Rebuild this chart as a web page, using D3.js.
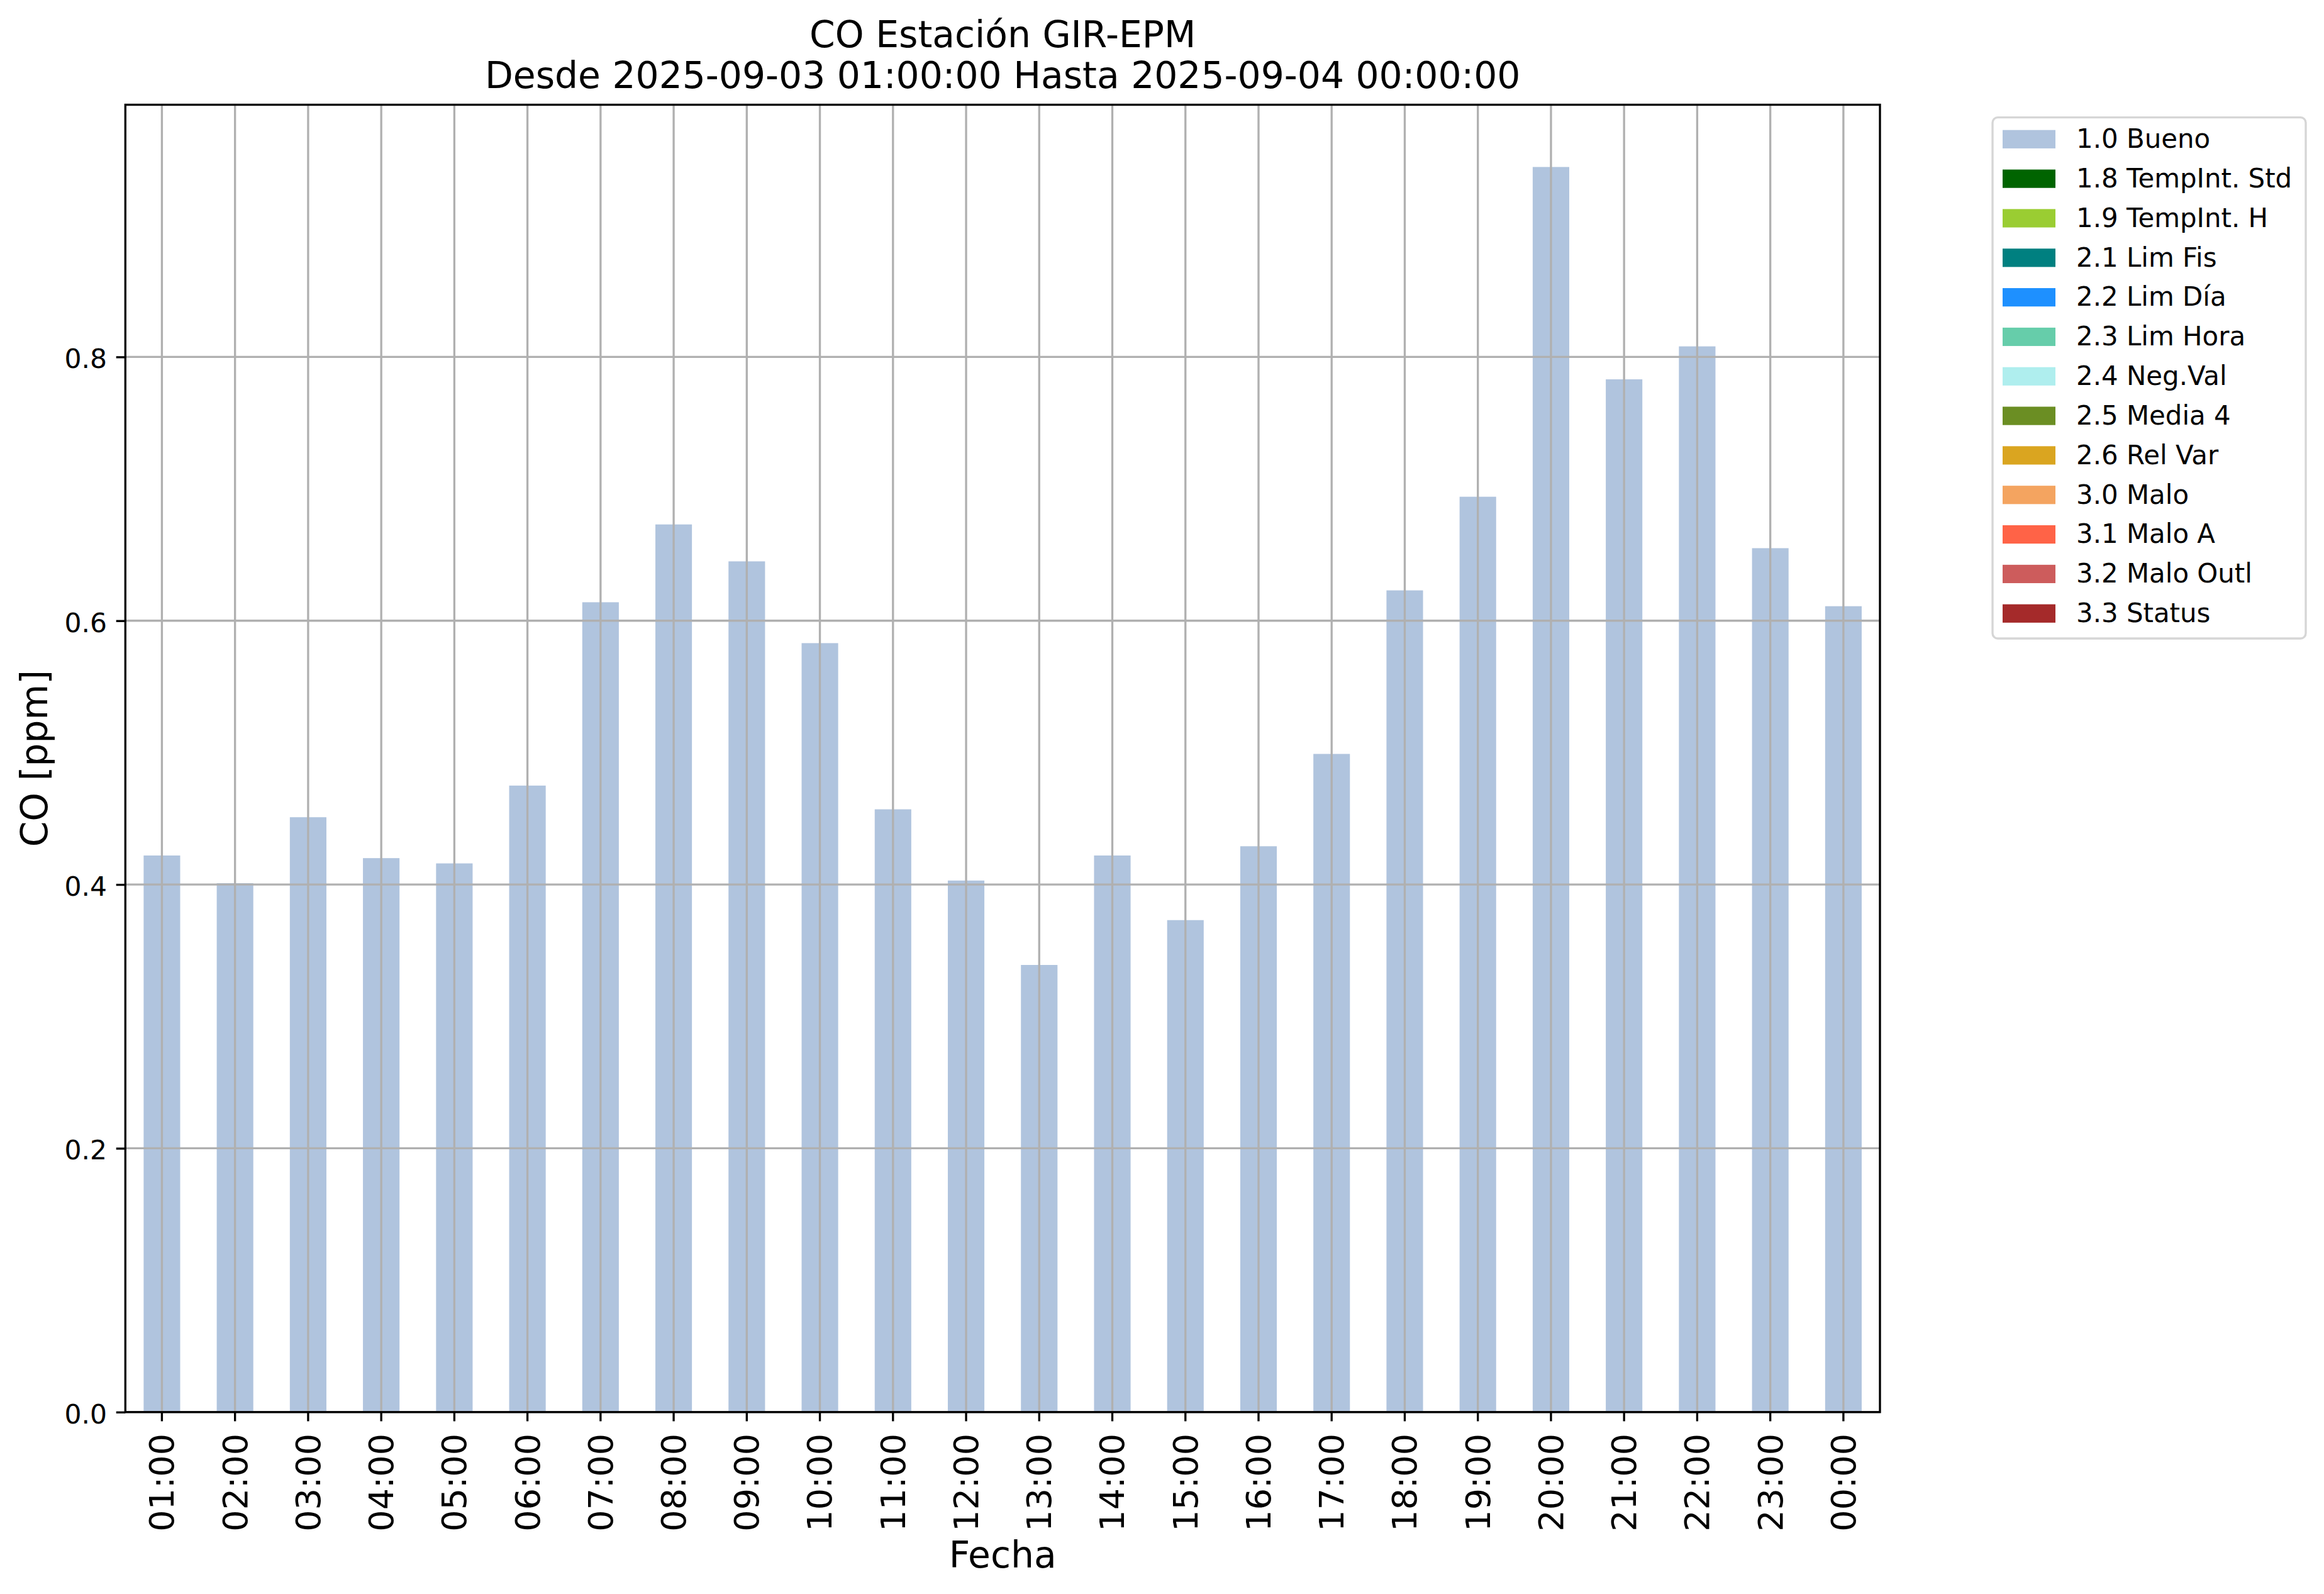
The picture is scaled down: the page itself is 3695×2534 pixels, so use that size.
<!DOCTYPE html>
<html>
<head>
<meta charset="utf-8">
<script src="https://cdn.jsdelivr.net/npm/d3@7"></script>
<style>
  html, body { margin: 0; padding: 0; background: #ffffff; }
  svg text { font-family: "DejaVu Sans", sans-serif; fill: #000; }
</style>
</head>
<body>
<script>
// ---------- data ----------
const hours = ["01:00","02:00","03:00","04:00","05:00","06:00","07:00","08:00","09:00","10:00","11:00","12:00",
               "13:00","14:00","15:00","16:00","17:00","18:00","19:00","20:00","21:00","22:00","23:00","00:00"];
const buenoValues = [0.422,0.401,0.451,0.420,0.416,0.475,0.614,0.673,0.645,0.583,0.457,0.403,
                     0.339,0.422,0.373,0.429,0.499,0.623,0.694,0.944,0.783,0.808,0.655,0.611];
const yTicks = [0.0, 0.2, 0.4, 0.6, 0.8];
const legendLabels = ["1.0 Bueno","1.8 TempInt. Std","1.9 TempInt. H","2.1 Lim Fis","2.2 Lim Día","2.3 Lim Hora",
                      "2.4 Neg.Val","2.5 Media 4","2.6 Rel Var","3.0 Malo","3.1 Malo A","3.2 Malo Outl","3.3 Status"];
const legendColors = ["#b0c4de","#006400","#9acd32","#008080","#1e90ff","#66cdaa",
                      "#afeeee","#6b8e23","#daa520","#f4a460","#ff6347","#cd5c5c","#a52a2a"];
const titleLines = ["CO Estación GIR-EPM", "Desde 2025-09-03 01:00:00 Hasta 2025-09-04 00:00:00"];
const xLabel = "Fecha";
const yLabel = "CO [ppm]";

// ---------- layout ----------
const W = 3695, H = 2534;
const L = 199.3, T = 166.5, R = 2989, B = 2244.8;
const FS_TITLE = 58.3, FS_XTICK = 54, FS_YTICK = 42.5, FS_LEG = 41.9;
const TICK = 14.6, PAD = 14.6, LW = 3.33;

const svg = d3.select("body").append("svg")
  .attr("width", W).attr("height", H)
  .attr("xmlns", "http://www.w3.org/2000/svg");
svg.append("rect").attr("width", W).attr("height", H).attr("fill", "#fff");

const x = d3.scaleBand().domain(hours).range([L, R]).paddingInner(0.5).paddingOuter(0.25);
const y = d3.scaleLinear().domain([0, d3.max(buenoValues) * 1.05]).range([B, T]);

// bars
svg.append("g").selectAll("rect").data(hours).join("rect")
  .attr("x", d => x(d))
  .attr("width", x.bandwidth())
  .attr("y", (d, i) => y(buenoValues[i]))
  .attr("height", (d, i) => y(0) - y(buenoValues[i]))
  .attr("fill", legendColors[0]);

// grid (drawn above bars as in the reference)
const grid = svg.append("g").attr("stroke", "#b0b0b0").attr("stroke-width", LW);
grid.selectAll("line.v").data(hours).join("line").attr("class", "v")
  .attr("x1", d => x(d) + x.bandwidth() / 2).attr("x2", d => x(d) + x.bandwidth() / 2)
  .attr("y1", T).attr("y2", B);
grid.selectAll("line.h").data(yTicks).join("line").attr("class", "h")
  .attr("x1", L).attr("x2", R).attr("y1", d => y(d)).attr("y2", d => y(d));

// axes via d3
const xAxis = svg.append("g").attr("transform", `translate(0,${B})`)
  .call(d3.axisBottom(x).tickSize(TICK).tickPadding(PAD));
xAxis.select(".domain").remove();
xAxis.selectAll(".tick line").attr("stroke", "#000").attr("stroke-width", LW);
xAxis.selectAll(".tick text")
  .attr("font-size", FS_XTICK).attr("font-family", "DejaVu Sans")
  .attr("text-anchor", "end")
  .attr("transform", `translate(0,${TICK + PAD + 5}) rotate(-90)`)
  .attr("x", 0).attr("y", 0).attr("dy", "0.35em");

const yAxis = svg.append("g").attr("transform", `translate(${L},0)`)
  .call(d3.axisLeft(y).tickValues(yTicks).tickFormat(d3.format(".1f")).tickSize(TICK).tickPadding(PAD));
yAxis.select(".domain").remove();
yAxis.selectAll(".tick line").attr("stroke", "#000").attr("stroke-width", LW);
yAxis.selectAll(".tick text")
  .attr("font-size", FS_YTICK).attr("font-family", "DejaVu Sans")
  .attr("dy", "0.41em");

// spines
svg.append("rect").attr("x", L).attr("y", T).attr("width", R - L).attr("height", B - T)
  .attr("fill", "none").attr("stroke", "#000").attr("stroke-width", LW);

// title
svg.append("g").selectAll("text").data(titleLines).join("text")
  .attr("x", (L + R) / 2).attr("y", (d, i) => 75 + i * 65)
  .attr("text-anchor", "middle").attr("font-size", FS_TITLE).text(d => d);

// axis labels
svg.append("text").attr("x", (L + R) / 2).attr("y", 2491.5)
  .attr("text-anchor", "middle").attr("font-size", FS_TITLE).text(xLabel);
svg.append("text").attr("transform", `translate(75,${(T + B) / 2}) rotate(-90)`)
  .attr("text-anchor", "middle").attr("font-size", FS_TITLE).text(yLabel);

// legend
const leg = svg.append("g");
leg.append("rect").attr("x", 3168).attr("y", 186.7).attr("width", 3666 - 3168).attr("height", 1015 - 186.7)
  .attr("rx", 8.3).attr("ry", 8.3)
  .attr("fill", "#fff").attr("stroke", "#cccccc").attr("stroke-opacity", 0.8).attr("stroke-width", LW);
const rowY = i => 221.3 + i * 62.83;
leg.selectAll("rect.p").data(legendLabels).join("rect").attr("class", "p")
  .attr("x", 3184).attr("y", (d, i) => rowY(i) - 14.6)
  .attr("width", 84).attr("height", 29.2)
  .attr("fill", (d, i) => legendColors[i]);
leg.selectAll("text").data(legendLabels).join("text")
  .attr("x", 3301).attr("y", (d, i) => rowY(i) + 13.8)
  .attr("font-size", FS_LEG).text(d => d);
</script>
</body>
</html>
